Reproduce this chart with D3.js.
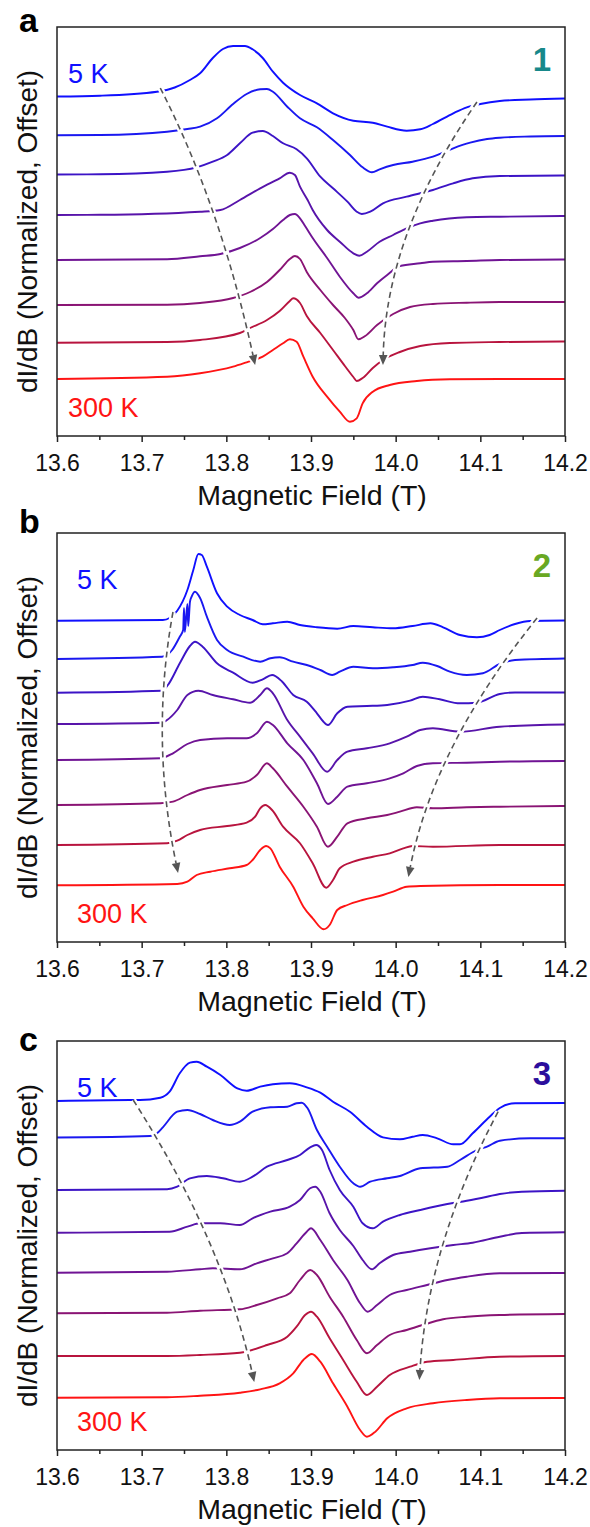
<!DOCTYPE html>
<html>
<head>
<meta charset="utf-8">
<script src="https://cdn.jsdelivr.net/npm/d3@7"></script>
<style>
  html, body { margin: 0; padding: 0; background: #fff; }
  svg { display: block; font-family: "Liberation Sans", Arial, Helvetica, sans-serif; }
</style>
</head>
<body>
<svg id="chart" width="590" height="1527"></svg>
<script>
// ---- axis ticks ----
const fieldTicks = [13.6, 13.7, 13.8, 13.9, 14.0, 14.1, 14.2];
const fieldMinorTicks = [13.65, 13.75, 13.85, 13.95, 14.05, 14.15];

// ---- trace colours, 5 K (top) to 300 K (bottom) ----
const traceColors = ["#1010ff", "#1a18f0", "#3c14c6", "#5814aa", "#701494", "#8a1474", "#b8143e", "#ff1414"];
const lowTempLabel = "5 K";
const highTempLabel = "300 K";

// ---- compound 1: [field (T), dI/dB normalized + offset] ----
const a1 = [[13.600,33.95],[13.651,34.03],[13.718,34.43],[13.739,34.85],[13.757,35.60],[13.769,36.27],[13.784,37.80],[13.796,38.70],[13.808,39.00],[13.822,39.00],[13.831,38.67],[13.843,37.80],[13.855,36.43],[13.867,35.33],[13.887,34.10],[13.907,33.27],[13.926,32.27],[13.950,31.53],[13.973,31.33],[13.990,30.93],[14.013,30.53],[14.029,30.67],[14.044,31.20],[14.068,32.27],[14.084,32.87],[14.100,33.20],[14.123,33.50],[14.159,33.65],[14.200,33.75]];
const a2 = [[13.600,30.07],[13.651,30.10],[13.730,30.43],[13.754,30.70],[13.769,30.93],[13.789,31.77],[13.808,33.20],[13.824,34.20],[13.840,34.67],[13.848,34.70],[13.855,34.43],[13.872,32.93],[13.887,31.77],[13.907,30.87],[13.926,29.60],[13.946,28.10],[13.961,26.87],[13.972,26.37],[13.981,26.67],[13.997,27.10],[14.020,27.43],[14.044,27.93],[14.068,28.77],[14.088,29.33],[14.108,29.70],[14.123,29.83],[14.159,29.95],[14.200,30.00]];
const a3 = [[13.600,26.15],[13.651,26.17],[13.730,26.43],[13.765,26.87],[13.784,27.43],[13.801,28.10],[13.816,29.27],[13.831,30.33],[13.843,30.50],[13.855,30.00],[13.867,29.27],[13.883,28.67],[13.895,27.77],[13.911,25.93],[13.926,24.77],[13.943,23.43],[13.954,22.43],[13.960,22.20],[13.970,22.43],[13.985,23.27],[14.013,23.93],[14.044,24.60],[14.068,25.27],[14.091,25.77],[14.123,26.00],[14.200,26.05]];
const a4 = [[13.600,22.10],[13.651,22.12],[13.769,22.43],[13.793,22.60],[13.816,23.60],[13.840,24.77],[13.863,25.77],[13.875,26.33],[13.881,26.10],[13.887,24.93],[13.896,23.60],[13.902,22.60],[13.919,20.60],[13.934,19.43],[13.950,18.27],[13.957,18.03],[13.966,18.43],[13.981,19.43],[13.997,20.10],[14.013,20.77],[14.029,21.27],[14.044,21.53],[14.084,21.87],[14.123,21.93],[14.200,22.00]];
const a5 = [[13.600,17.60],[13.730,17.67],[13.769,17.97],[13.793,18.20],[13.816,18.80],[13.840,19.80],[13.855,20.70],[13.867,21.60],[13.875,22.10],[13.881,22.20],[13.887,21.77],[13.893,21.00],[13.902,19.80],[13.919,17.80],[13.934,15.93],[13.950,14.27],[13.956,13.83],[13.966,14.27],[13.978,15.27],[13.990,16.10],[14.005,17.00],[14.029,17.27],[14.044,17.43],[14.084,17.50],[14.123,17.60],[14.200,17.65]];
const a6 = [[13.600,13.10],[13.730,13.13],[13.769,13.30],[13.808,13.80],[13.828,14.40],[13.848,15.40],[13.863,16.60],[13.875,17.70],[13.881,18.00],[13.887,17.70],[13.895,16.40],[13.911,14.60],[13.926,13.10],[13.940,11.80],[13.950,10.60],[13.956,9.67],[13.964,10.00],[13.978,11.10],[13.997,12.20],[14.017,12.90],[14.044,13.20],[14.084,13.33],[14.123,13.40],[14.200,13.40]];
const a7 = [[13.600,9.33],[13.730,9.40],[13.769,9.60],[13.816,10.30],[13.828,10.80],[13.848,11.60],[13.863,12.50],[13.875,13.50],[13.879,13.77],[13.887,13.30],[13.895,12.00],[13.911,10.30],[13.926,8.60],[13.940,7.00],[13.950,5.90],[13.954,5.50],[13.961,5.80],[13.973,6.80],[13.985,7.60],[14.005,8.40],[14.029,9.00],[14.064,9.30],[14.123,9.40],[14.200,9.45]];
const a8 = [[13.600,5.70],[13.730,5.93],[13.769,6.27],[13.808,6.93],[13.824,7.37],[13.843,7.93],[13.855,8.60],[13.867,9.27],[13.875,9.67],[13.883,9.43],[13.891,7.93],[13.902,5.93],[13.919,3.93],[13.934,2.43],[13.946,1.43],[13.954,1.77],[13.961,3.27],[13.973,4.43],[13.993,5.10],[14.025,5.50],[14.064,5.67],[14.123,5.70],[14.200,5.70]];

// ---- compound 2 ----
const b1 = [[13.600,32.13],[13.725,32.20],[13.733,32.40],[13.742,33.13],[13.754,35.20],[13.761,37.20],[13.767,38.80],[13.771,38.70],[13.777,37.53],[13.789,34.87],[13.801,33.53],[13.816,32.70],[13.831,32.20],[13.843,31.77],[13.855,31.87],[13.872,32.03],[13.887,31.70],[13.907,31.47],[13.931,31.33],[13.950,31.60],[13.973,31.47],[13.997,31.37],[14.020,31.60],[14.041,31.87],[14.056,31.47],[14.076,30.70],[14.096,30.47],[14.111,30.70],[14.123,31.20],[14.141,31.80],[14.159,32.10],[14.200,32.15]];
const b2 = [[13.600,28.30],[13.724,28.53],[13.736,29.20],[13.745,30.53],[13.749,31.20],[13.750,33.40],[13.751,31.00],[13.754,33.80],[13.755,31.60],[13.757,34.00],[13.759,34.53],[13.763,35.03],[13.769,34.40],[13.777,32.53],[13.789,30.20],[13.801,29.20],[13.820,28.53],[13.840,28.03],[13.852,28.37],[13.863,28.47],[13.879,28.03],[13.895,27.70],[13.911,27.20],[13.925,26.70],[13.934,27.03],[13.950,27.53],[13.973,27.37],[13.997,27.47],[14.020,27.70],[14.032,27.93],[14.049,27.60],[14.064,27.03],[14.084,26.70],[14.103,26.87],[14.123,27.80],[14.141,28.20],[14.200,28.35]];
const b3 = [[13.600,24.93],[13.724,25.13],[13.731,25.70],[13.745,27.87],[13.757,29.60],[13.763,30.03],[13.772,29.53],[13.789,27.87],[13.808,26.93],[13.831,25.93],[13.843,26.27],[13.854,26.70],[13.866,26.03],[13.879,24.70],[13.895,24.03],[13.907,22.87],[13.914,22.10],[13.920,21.70],[13.931,22.87],[13.943,23.53],[13.966,23.60],[13.990,23.70],[14.017,24.13],[14.032,24.53],[14.052,24.27],[14.076,23.87],[14.096,23.93],[14.123,24.80],[14.141,24.95],[14.200,24.95]];
const b4 = [[13.600,21.80],[13.724,21.93],[13.730,22.20],[13.742,23.20],[13.754,24.70],[13.767,25.13],[13.784,24.70],[13.808,24.27],[13.828,23.93],[13.840,24.70],[13.848,25.37],[13.855,24.87],[13.872,22.20],[13.887,20.53],[13.902,18.87],[13.919,17.03],[13.931,18.20],[13.943,19.03],[13.966,19.37],[13.993,19.87],[14.013,20.53],[14.029,21.20],[14.044,21.37],[14.076,21.03],[14.123,21.53],[14.200,21.75]];
const b5 = [[13.600,18.20],[13.722,18.37],[13.737,18.87],[13.754,19.80],[13.769,20.20],[13.801,20.37],[13.824,20.37],[13.836,20.87],[13.848,22.03],[13.855,21.70],[13.872,19.87],[13.891,18.20],[13.907,15.87],[13.920,13.80],[13.931,14.53],[13.943,15.53],[13.966,15.87],[13.993,16.37],[14.009,16.87],[14.025,17.60],[14.044,17.87],[14.084,17.93],[14.123,18.03],[14.200,18.10]];
const b6 = [[13.600,13.70],[13.722,13.87],[13.737,14.03],[13.754,14.70],[13.769,15.20],[13.801,15.70],[13.824,16.03],[13.836,16.70],[13.848,17.87],[13.855,17.37],[13.872,15.53],[13.891,13.53],[13.907,11.53],[13.920,9.53],[13.931,10.53],[13.943,11.87],[13.966,12.37],[13.990,12.70],[14.005,13.03],[14.025,13.47],[14.044,13.37],[14.084,13.47],[14.123,13.53],[14.200,13.60]];
const b7 = [[13.600,9.70],[13.730,9.87],[13.742,10.13],[13.754,10.70],[13.769,11.20],[13.801,11.60],[13.824,11.93],[13.834,12.53],[13.840,13.37],[13.846,13.70],[13.854,13.20],[13.867,11.53],[13.887,9.87],[13.902,7.87],[13.918,5.43],[13.926,6.20],[13.934,7.37],[13.950,8.03],[13.973,8.53],[13.993,8.87],[14.009,9.37],[14.020,9.60],[14.044,9.53],[14.123,9.70],[14.200,9.70]];
const b8 = [[13.600,5.67],[13.742,5.80],[13.754,6.03],[13.765,6.70],[13.781,7.03],[13.804,7.37],[13.824,7.70],[13.831,8.20],[13.840,9.20],[13.847,9.60],[13.852,9.37],[13.863,7.53],[13.879,5.53],[13.891,3.53],[13.902,2.37],[13.915,1.27],[13.922,1.70],[13.931,3.20],[13.943,3.70],[13.961,4.20],[13.985,4.70],[13.997,5.03],[14.013,5.53],[14.029,5.60],[14.123,5.70],[14.200,5.70]];

// ---- compound 3 ----
const c1 = [[13.600,34.90],[13.686,35.00],[13.698,35.00],[13.722,35.23],[13.733,35.83],[13.745,37.67],[13.757,38.73],[13.765,38.83],[13.777,38.33],[13.793,37.50],[13.813,36.17],[13.824,35.93],[13.840,36.33],[13.855,36.57],[13.875,36.67],[13.895,36.27],[13.911,35.73],[13.926,34.83],[13.946,33.83],[13.966,32.33],[13.985,31.27],[14.005,31.07],[14.020,31.33],[14.032,31.50],[14.049,31.17],[14.068,30.57],[14.076,30.57],[14.091,31.67],[14.111,33.33],[14.123,34.20],[14.141,34.67],[14.200,34.70]];
const c2 = [[13.600,31.25],[13.710,31.40],[13.718,31.67],[13.725,32.27],[13.742,33.83],[13.754,34.00],[13.769,33.60],[13.784,33.00],[13.804,32.50],[13.816,32.83],[13.831,33.83],[13.852,34.27],[13.872,34.33],[13.883,34.67],[13.889,34.73],[13.896,34.17],[13.907,32.00],[13.919,30.33],[13.934,28.33],[13.950,26.67],[13.958,26.33],[13.970,26.83],[13.990,27.17],[14.005,27.40],[14.029,28.17],[14.061,28.33],[14.076,29.00],[14.096,30.00],[14.108,30.33],[14.123,30.93],[14.159,31.17],[14.200,31.17]];
const c3 = [[13.600,26.00],[13.730,26.07],[13.742,26.33],[13.757,27.17],[13.777,27.40],[13.796,27.17],[13.816,26.83],[13.831,27.33],[13.848,28.33],[13.872,29.00],[13.887,29.50],[13.899,30.27],[13.906,30.50],[13.913,30.00],[13.922,28.00],[13.934,26.00],[13.950,24.33],[13.961,22.67],[13.973,22.17],[13.985,22.83],[14.005,23.50],[14.029,24.00],[14.061,24.60],[14.084,24.93],[14.108,25.33],[14.123,25.60],[14.149,25.83],[14.200,25.93]];
const c4 = [[13.600,21.73],[13.733,21.83],[13.754,22.33],[13.769,22.67],[13.793,22.67],[13.816,22.50],[13.831,23.17],[13.852,23.83],[13.875,24.33],[13.887,25.00],[13.899,26.17],[13.905,26.33],[13.911,25.83],[13.922,23.67],[13.934,22.00],[13.950,20.40],[13.961,19.00],[13.972,18.07],[13.981,18.67],[13.997,19.50],[14.017,19.83],[14.041,20.17],[14.068,20.50],[14.091,20.73],[14.123,21.33],[14.149,21.70],[14.200,21.77]];
const c5 = [[13.600,17.73],[13.730,17.83],[13.769,18.07],[13.784,18.17],[13.816,18.07],[13.836,18.67],[13.855,19.17],[13.872,19.67],[13.883,20.67],[13.895,21.83],[13.900,22.17],[13.911,21.00],[13.926,19.00],[13.943,17.00],[13.958,14.67],[13.967,13.83],[13.978,14.50],[13.993,15.50],[14.013,16.00],[14.037,16.50],[14.061,17.00],[14.084,17.33],[14.123,17.67],[14.200,17.70]];
const c6 = [[13.600,13.67],[13.730,13.73],[13.769,13.93],[13.816,14.07],[13.836,14.50],[13.860,15.17],[13.875,15.67],[13.887,17.00],[13.899,18.00],[13.907,17.50],[13.922,15.33],[13.938,13.33],[13.954,11.00],[13.966,9.67],[13.978,10.50],[13.993,11.50],[14.013,12.00],[14.032,12.50],[14.056,13.07],[14.084,13.33],[14.123,13.50],[14.200,13.60]];
const c7 = [[13.600,9.40],[13.730,9.40],[13.769,9.50],[13.816,9.73],[13.848,10.50],[13.872,11.33],[13.883,12.33],[13.893,13.50],[13.900,13.83],[13.907,13.33],[13.922,11.17],[13.938,9.00],[13.954,6.83],[13.966,5.50],[13.978,6.33],[13.993,7.50],[14.017,8.33],[14.037,8.83],[14.068,9.00],[14.123,9.33],[14.200,9.40]];
const c8 = [[13.600,5.23],[13.730,5.27],[13.769,5.43],[13.816,5.73],[13.840,6.07],[13.863,6.67],[13.879,7.67],[13.891,9.00],[13.901,9.60],[13.911,8.83],[13.926,6.67],[13.943,4.33],[13.958,2.00],[13.966,1.33],[13.976,1.83],[13.990,3.17],[14.013,4.17],[14.044,4.67],[14.084,5.00],[14.123,5.17],[14.200,5.20]];

// ---- guide arrows (field, offset intensity): start, bend, tip ----
const arrowsA = [
  { from: [13.722, 34.8], via: [13.793, 23.05], to: [13.834, 7.1] },
  { from: [14.096, 33.4], via: [13.989, 20.3], to: [13.985, 7.1] }
];
const arrowsB = [
  { from: [13.737, 33.0], via: [13.710, 20.45], to: [13.743, 6.9] },
  { from: [14.167, 32.4], via: [14.045, 19.55], to: [14.015, 6.5] }
];
const arrowsC = [
  { from: [13.690, 35.0], via: [13.795, 21.1], to: [13.833, 6.8] },
  { from: [14.121, 33.83], via: [14.038, 20.6], to: [14.028, 7.0] }
];

const panels = [
  { letter: "a", compound: "1", compoundColor: "#17888a", traces: [a1, a2, a3, a4, a5, a6, a7, a8], arrows: arrowsA, lowX: 68 },
  { letter: "b", compound: "2", compoundColor: "#69a823", traces: [b1, b2, b3, b4, b5, b6, b7, b8], arrows: arrowsB, lowX: 77 },
  { letter: "c", compound: "3", compoundColor: "#2c0e9c", traces: [c1, c2, c3, c4, c5, c6, c7, c8], arrows: arrowsC, lowX: 77 }
];

// ---- layout ----
const plotLeft = 57, plotRight = 565, plotHeight = 409;
const panelTops = [27, 533, 1041];
const letterBaselines = [32, 533, 1051];
const svg = d3.select("#chart");
const x = d3.scaleLinear().domain([13.6, 14.2]).range([plotLeft, plotRight]);

function drawArrow(g, a, y) {
  const p0 = [x(a.from[0]), y(a.from[1])];
  const c = [x(a.via[0]), y(a.via[1])];
  const tip = [x(a.to[0]), y(a.to[1])];
  let dx = tip[0] - c[0], dy = tip[1] - c[1];
  const len = Math.hypot(dx, dy); dx /= len; dy /= len;
  const headLen = 10, headHalf = 4.3;
  const base = [tip[0] - dx * headLen, tip[1] - dy * headLen];
  const p = d3.path();
  p.moveTo(p0[0], p0[1]);
  p.quadraticCurveTo(c[0], c[1], base[0], base[1]);
  const head = [tip, [base[0] - dy * headHalf, base[1] + dx * headHalf], [base[0] + dy * headHalf, base[1] - dx * headHalf]];
  // white knock-out so the guide reads over the traces
  g.append("path").attr("d", p.toString()).attr("fill", "none").attr("stroke", "#fff").attr("stroke-width", 6);
  g.append("polygon").attr("points", head.join(" ")).attr("fill", "#fff").attr("stroke", "#fff").attr("stroke-width", 4);
  g.append("path").attr("d", p.toString()).attr("fill", "none").attr("stroke", "#555")
    .attr("stroke-width", 1.6).attr("stroke-dasharray", "6,4");
  g.append("polygon").attr("points", head.join(" ")).attr("fill", "#555");
}

panels.forEach((p, i) => {
  const top = panelTops[i], bottom = top + plotHeight;
  const y = d3.scaleLinear().domain([0, 40.9]).range([bottom, top]);
  const g = svg.append("g");

  const line = d3.line().x(d => x(d[0])).y(d => y(d[1])).curve(d3.curveMonotoneX);
  p.traces.forEach((t, k) => {
    g.append("path").attr("d", line(t)).attr("fill", "none")
      .attr("stroke", traceColors[k]).attr("stroke-width", 1.9).attr("stroke-linejoin", "round");
  });

  p.arrows.forEach(a => drawArrow(g, a, y));

  // frame
  g.append("rect").attr("x", plotLeft).attr("y", top).attr("width", plotRight - plotLeft).attr("height", plotHeight)
    .attr("fill", "none").attr("stroke", "#222").attr("stroke-width", 1.5);

  // bottom axis: major + minor ticks
  const major = g.append("g").attr("transform", `translate(0,${bottom})`)
    .call(d3.axisBottom(x).tickValues(fieldTicks).tickFormat(d3.format(".1f")).tickSize(6).tickPadding(12.5));
  major.select(".domain").remove();
  major.selectAll(".tick line").attr("stroke", "#222").attr("stroke-width", 1.5);
  major.selectAll(".tick text").attr("fill", "#111").style("font-size", "23px")
    .style("font-family", "'Liberation Sans', Arial, sans-serif");
  const minor = g.append("g").attr("transform", `translate(0,${bottom})`)
    .call(d3.axisBottom(x).tickValues(fieldMinorTicks).tickFormat("").tickSize(4));
  minor.select(".domain").remove();
  minor.selectAll(".tick line").attr("stroke", "#222").attr("stroke-width", 1.5);

  // axis titles
  g.append("text").attr("x", (plotLeft + plotRight) / 2 + 1).attr("y", bottom + 69)
    .attr("text-anchor", "middle").attr("fill", "#111").style("font-size", "28.5px")
    .text("Magnetic Field (T)");
  g.append("text").attr("transform", `translate(37,${(top + bottom) / 2}) rotate(-90)`)
    .attr("text-anchor", "middle").attr("fill", "#111").style("font-size", "28px")
    .text("dI/dB (Normalized, Offset)");

  // panel letter and compound number
  g.append("text").attr("x", 19).attr("y", letterBaselines[i]).attr("fill", "#000")
    .style("font-size", "34px").style("font-weight", "bold").text(p.letter);
  g.append("text").attr("x", 551).attr("y", top + 44).attr("text-anchor", "end")
    .attr("fill", p.compoundColor).style("font-size", "33px").style("font-weight", "bold").text(p.compound);

  // temperature labels
  g.append("text").attr("x", p.lowX).attr("y", top + 56).attr("fill", traceColors[0])
    .style("font-size", "27px").text(lowTempLabel);
  g.append("text").attr("x", p.lowX).attr("y", bottom - 19).attr("fill", traceColors[7])
    .style("font-size", "27px").text(highTempLabel);
});
</script>
</body>
</html>
